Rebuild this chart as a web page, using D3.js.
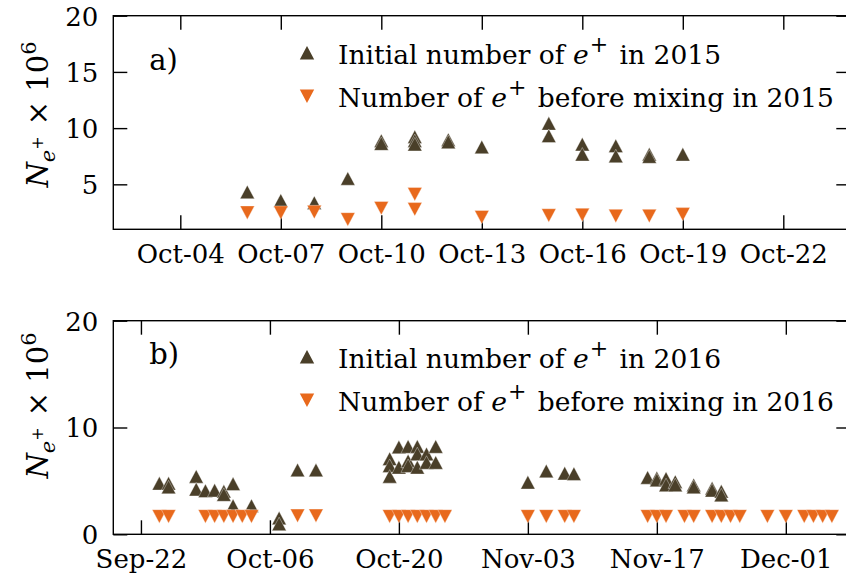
<!DOCTYPE html>
<html><head><meta charset="utf-8">
<script src="https://cdn.jsdelivr.net/npm/d3@7/dist/d3.min.js"></script>
<style>
body{margin:0;background:#fff}
svg{display:block}
text{font-family:"DejaVu Serif",serif;fill:#000}
</style>
</head><body>
<svg id="chart" width="846" height="579"></svg>
<script>
// ---------- data (values in units of 10^6) ----------
const initial2015Dates = ["2015-10-06","2015-10-07","2015-10-08","2015-10-09","2015-10-10","2015-10-10","2015-10-11","2015-10-11","2015-10-11","2015-10-12","2015-10-12","2015-10-13","2015-10-15","2015-10-15","2015-10-16","2015-10-16","2015-10-17","2015-10-17","2015-10-18","2015-10-18","2015-10-19"];
const initial2015Values = [4.3,3.55,3.35,5.5,8.85,8.6,9.2,8.85,8.55,8.95,8.75,8.3,10.4,9.3,8.55,7.65,8.4,7.5,7.65,7.45,7.65];
const mixing2015Dates = ["2015-10-06","2015-10-07","2015-10-08","2015-10-09","2015-10-10","2015-10-11","2015-10-11","2015-10-13","2015-10-15","2015-10-16","2015-10-17","2015-10-18","2015-10-19"];
const mixing2015Values = [2.5,2.5,2.55,1.9,2.9,4.15,2.8,2.1,2.25,2.3,2.2,2.2,2.35];

const initial2016Dates = ["2016-09-24","2016-09-25","2016-09-25","2016-09-28","2016-09-28","2016-09-29","2016-09-30","2016-10-01","2016-10-01","2016-10-02","2016-10-02","2016-10-04","2016-10-07","2016-10-07","2016-10-09","2016-10-11","2016-10-19","2016-10-19","2016-10-19","2016-10-20","2016-10-20","2016-10-21","2016-10-21","2016-10-21","2016-10-22","2016-10-22","2016-10-22","2016-10-23","2016-10-23","2016-10-24","2016-10-24","2016-11-03","2016-11-05","2016-11-07","2016-11-08","2016-11-16","2016-11-17","2016-11-17","2016-11-18","2016-11-18","2016-11-19","2016-11-19","2016-11-21","2016-11-21","2016-11-23","2016-11-23","2016-11-24","2016-11-24"];
const initial2016Values = [4.75,4.75,4.4,5.4,4.2,4.05,4.1,4.0,3.7,4.7,2.65,2.65,1.5,0.95,6.0,6.0,7.05,6.4,5.4,8.15,6.25,8.2,6.85,6.4,8.2,7.5,6.25,7.5,6.7,8.2,6.7,4.85,5.9,5.7,5.65,5.3,5.25,5.05,5.2,4.6,4.9,4.6,4.6,4.4,4.3,4.1,4.0,3.65];
const mixing2016Dates = ["2016-09-24","2016-09-25","2016-09-29","2016-09-30","2016-10-01","2016-10-02","2016-10-03","2016-10-04","2016-10-09","2016-10-11","2016-10-19","2016-10-20","2016-10-21","2016-10-22","2016-10-23","2016-10-24","2016-10-25","2016-11-03","2016-11-05","2016-11-07","2016-11-08","2016-11-16","2016-11-17","2016-11-18","2016-11-20","2016-11-21","2016-11-23","2016-11-24","2016-11-25","2016-11-26","2016-11-29","2016-12-01","2016-12-03","2016-12-04","2016-12-05","2016-12-06"];
const mixing2016Values = [1.7,1.7,1.7,1.7,1.7,1.7,1.7,1.7,1.75,1.75,1.7,1.7,1.7,1.7,1.7,1.7,1.7,1.7,1.7,1.7,1.7,1.7,1.7,1.7,1.7,1.7,1.7,1.7,1.7,1.7,1.7,1.7,1.7,1.7,1.7,1.7];

const xTicks2015 = ["2015-10-04","2015-10-07","2015-10-10","2015-10-13","2015-10-16","2015-10-19","2015-10-22"];
const xTicks2016 = ["2016-09-22","2016-10-06","2016-10-20","2016-11-03","2016-11-17","2016-12-01"];
const yTicks2015 = [5,10,15,20];
const yTicks2016 = [0,10,20];
const xDomain2015 = ["2015-10-02","2015-10-24"];
const xDomain2016 = ["2016-09-19","2016-12-08"];
const yDomain2015 = [1,20];
const yDomain2016 = [0,20];
const legend2015 = ["Initial number of ", " in 2015", "Number of ", " before mixing in 2015"];
const legend2016 = ["Initial number of ", " in 2016", "Number of ", " before mixing in 2016"];

const COL_UP = "#4a3f29";
const COL_DOWN = "#e8691c";

const parse = d3.utcParse("%Y-%m-%d");
const fmt = d3.utcFormat("%b-%d");
const svg = d3.select("#chart");

const upPath = "M0,-7L7.2,6.5L-7.2,6.5Z";
const downPath = "M0,7L7.2,-6.5L-7.2,-6.5Z";

function panel(cfg){
  const {left,right,top,bottom} = cfg;
  const x = d3.scaleUtc().domain(cfg.xDomain.map(parse)).range([left,right]);
  const y = d3.scaleLinear().domain(cfg.yDomain).range([bottom,top]);
  const g = svg.append("g");
  const clipId = "clip"+cfg.id;
  svg.append("clipPath").attr("id",clipId).append("rect")
    .attr("x",left).attr("y",top-10).attr("width",right-left).attr("height",bottom-top+20);

  // axes
  const tickLen = 14;
  const xb = g.append("g").attr("transform",`translate(0,${bottom})`)
    .call(d3.axisBottom(x).tickValues(cfg.xTicks.map(parse)).tickFormat(fmt)
      .tickSizeInner(-tickLen).tickSizeOuter(0).tickPadding(15));
  const xt = g.append("g").attr("transform",`translate(0,${top})`)
    .call(d3.axisTop(x).tickValues(cfg.xTicks.map(parse)).tickFormat("")
      .tickSizeInner(-tickLen).tickSizeOuter(0));
  const yl = g.append("g").attr("transform",`translate(${left},0)`)
    .call(d3.axisLeft(y).tickValues(cfg.yTicks).tickFormat(d3.format("d"))
      .tickSizeInner(-tickLen).tickSizeOuter(0).tickPadding(15));
  const yr = g.append("g").attr("transform",`translate(${right},0)`)
    .call(d3.axisRight(y).tickValues(cfg.yTicks).tickFormat("")
      .tickSizeInner(-tickLen).tickSizeOuter(0));
  [xb,xt,yl,yr].forEach(a=>{
    a.select(".domain").remove();
    a.selectAll("line").attr("stroke","#000").attr("stroke-width",1.4);
    a.selectAll("text").attr("font-size",26).attr("font-family","DejaVu Serif").attr("fill","#000");
  });
  yl.selectAll("text").attr("dy","0.36em");

  // frame
  g.append("rect").attr("x",left).attr("y",top).attr("width",right-left).attr("height",bottom-top)
    .attr("fill","none").attr("stroke","#000").attr("stroke-width",1.4);

  // data marks
  const mg = g.append("g").attr("clip-path",`url(#${clipId})`);
  mg.selectAll("path.up").data(cfg.upDates.map((d,i)=>({d:parse(d),v:cfg.upValues[i]})))
    .join("path").attr("class","up").attr("d",upPath)
    .attr("transform",p=>`translate(${x(p.d)},${y(p.v)})`)
    .attr("fill",COL_UP).attr("stroke","#fff").attr("stroke-width",0.6).attr("stroke-opacity",0.6);
  mg.selectAll("path.down").data(cfg.downDates.map((d,i)=>({d:parse(d),v:cfg.downValues[i]})))
    .join("path").attr("class","down").attr("d",downPath)
    .attr("transform",p=>`translate(${x(p.d)},${y(p.v)})`)
    .attr("fill",COL_DOWN).attr("stroke","#fff").attr("stroke-width",0.6).attr("stroke-opacity",0.6);

  // panel letter
  g.append("text").attr("x",left+36).attr("y",top+cfg.letterDy).attr("font-size",29).text(cfg.letter);

  // legend
  const L = cfg.legend;
  const lx = 307, tx = 338;
  g.append("path").attr("d",upPath).attr("transform",`translate(${lx},${cfg.leg1y})`).attr("fill",COL_UP);
  g.append("path").attr("d",downPath).attr("transform",`translate(${lx},${cfg.leg2y})`).attr("fill",COL_DOWN);
  function legText(yb, a, b){
    const t = g.append("text").attr("x",tx).attr("y",yb).attr("font-size",26.5);
    t.append("tspan").text(a);
    t.append("tspan").attr("font-style","italic").text("e");
    t.append("tspan").attr("font-size",22).attr("dy",-12).attr("dx",1).text("+");
    t.append("tspan").attr("dy",12).attr("dx",3).text(b);
  }
  legText(cfg.leg1y+10.5, L[0], L[1]);
  legText(cfg.leg2y+10.5, L[2], L[3]);

  // y label
  const cy = (top+bottom)/2 + cfg.labelShift;
  const yt = g.append("text").attr("transform",`translate(48,${cy}) rotate(-90)`)
    .attr("text-anchor","middle").attr("font-size",29);
  yt.append("tspan").attr("font-style","italic").text("N");
  yt.append("tspan").attr("font-style","italic").attr("font-size",21).attr("dy",7).text("e");
  yt.append("tspan").attr("font-size",16).attr("dy",-12).text("+");
  yt.append("tspan").attr("dy",5).attr("dx",2).text(" × 10");
  yt.append("tspan").attr("font-size",21).attr("dy",-12).text("6");
}

panel({id:"a",left:113.3,right:850.3,top:15.7,bottom:229.3,
  xDomain:xDomain2015,yDomain:yDomain2015,xTicks:xTicks2015,yTicks:yTicks2015,
  upDates:initial2015Dates,upValues:initial2015Values,downDates:mixing2015Dates,downValues:mixing2015Values,
  letter:"a)",letterDy:54,legend:legend2015,leg1y:53,leg2y:96,labelShift:-8});
panel({id:"b",left:113.3,right:850.3,top:320.7,bottom:534.3,
  xDomain:xDomain2016,yDomain:yDomain2016,xTicks:xTicks2016,yTicks:yTicks2016,
  upDates:initial2016Dates,upValues:initial2016Values,downDates:mixing2016Dates,downValues:mixing2016Values,
  letter:"b)",letterDy:43,legend:legend2016,leg1y:357,leg2y:400,labelShift:-22});
</script>
</body></html>
